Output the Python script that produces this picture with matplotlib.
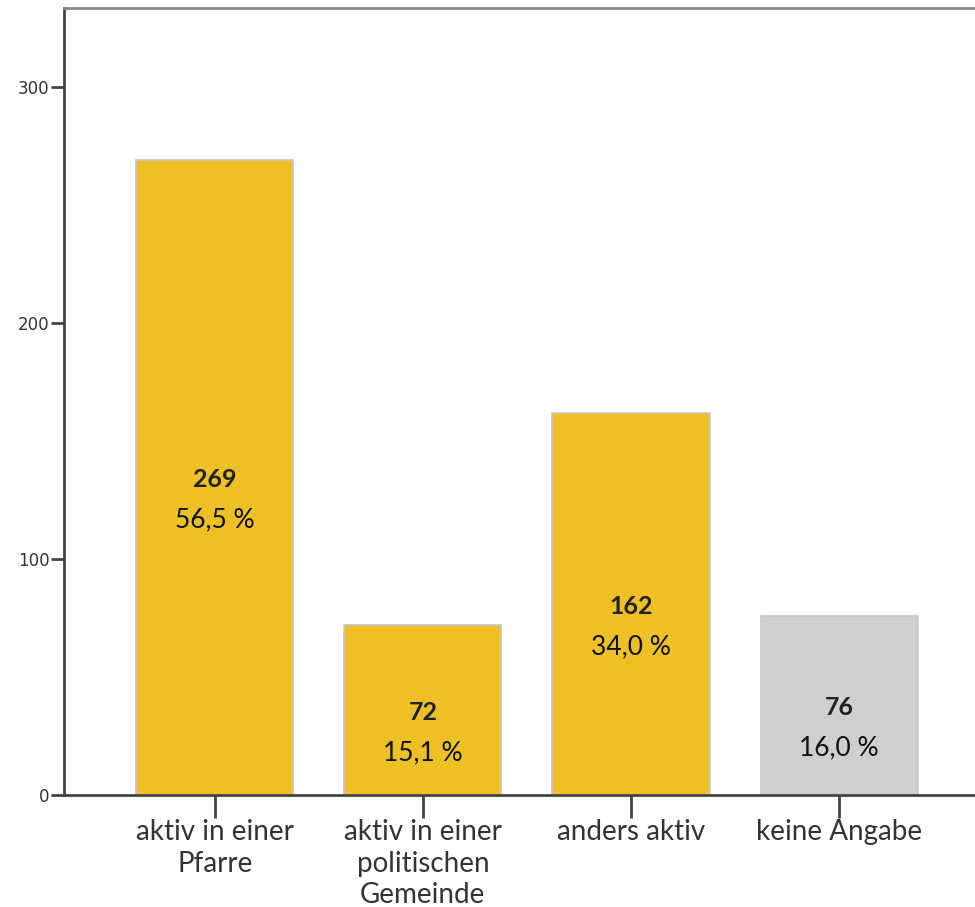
import matplotlib
matplotlib.use("Agg")
import matplotlib.pyplot as plt

categories = ["aktiv in einer\nPfarre", "aktiv in einer\npolitischen\nGemeinde", "anders aktiv", "keine Angabe"]
counts = [269, 72, 162, 76]
percents = ["56,5 %", "15,1 %", "34,0 %", "16,0 %"]
colors = ["#EDC126", "#EDC126", "#EDC126", "#CFCFCF"]
yticks = [0, 100, 200, 300]

fig = plt.figure(figsize=(9.75, 9.07), dpi=100)
ax = fig.add_axes([64/975, (907-795)/907, 1 - 64/975 + 0.01, (795-8)/907])

x = list(range(len(categories)))
ax.bar(x, counts, width=0.755, color=colors, edgecolor="#C8C8C8", linewidth=1.2, zorder=2)

for xi, c, p in zip(x, counts, percents):
    ax.text(xi, c / 2 - 1, str(c), ha="center", va="center", fontsize=18,
            fontweight="bold", family="Lato", color="#222222", zorder=3)
    ax.text(xi, c / 2 - 18, p, ha="center", va="center", fontsize=19,
            family="Lato", color="#111111", zorder=3)

ax.set_xlim(-0.725, 3.70)
ax.set_ylim(0, 333.5)
ax.set_yticks(yticks)
ax.set_yticklabels([str(t) for t in yticks], fontsize=12, color="#333333")
ax.set_xticks(x)
ax.set_xticklabels(categories, fontsize=20, family="Lato", color="#333333", linespacing=1.25)

for s in ["left", "bottom", "top"]:
    ax.spines[s].set_linewidth(2)
    ax.spines[s].set_color("#444444")
ax.spines["right"].set_visible(False)
ax.spines["top"].set_color("#888888")
ax.tick_params(axis="y", length=9.5, width=2, color="#444444", pad=1)
ax.tick_params(axis="x", length=16.5, width=2, color="#444444", pad=1)

fig.savefig("out.png", dpi=100)
